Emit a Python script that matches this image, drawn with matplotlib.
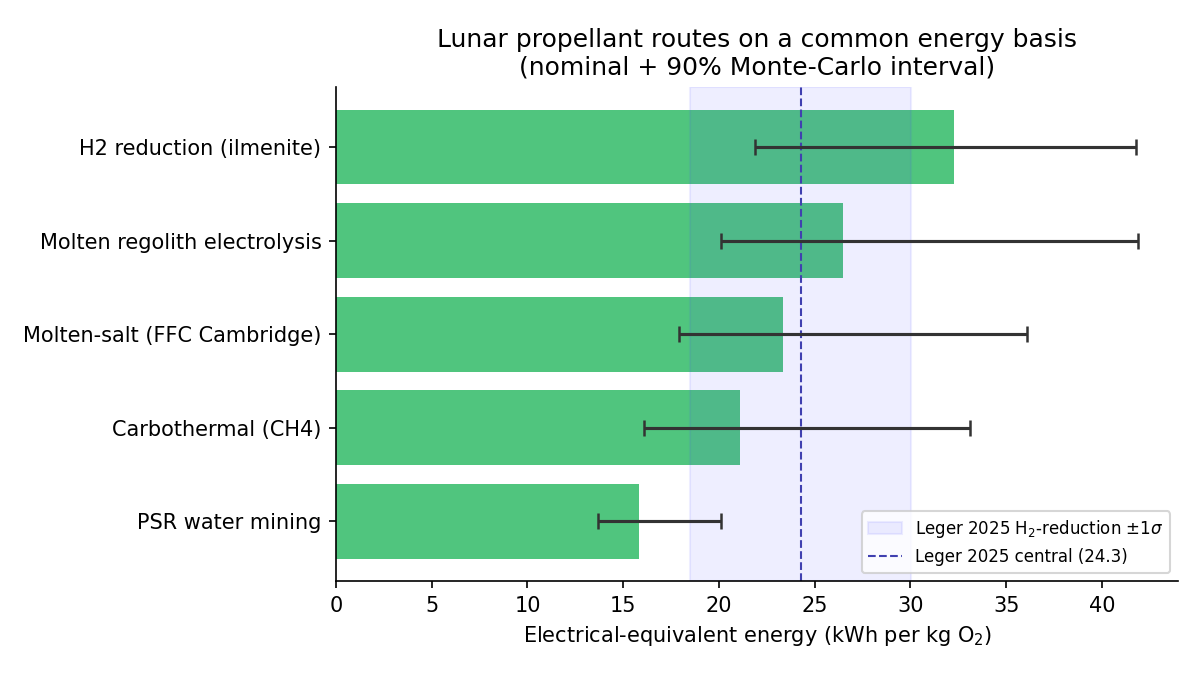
import matplotlib.pyplot as plt
import numpy as np

routes = ["PSR water mining", "Carbothermal (CH4)", "Molten-salt (FFC Cambridge)",
          "Molten regolith electrolysis", "H2 reduction (ilmenite)"]
nominal = [15.8, 21.1, 23.35, 26.5, 32.3]
p05 = [13.7, 16.1, 17.9, 20.1, 21.9]
p95 = [20.1, 33.1, 36.1, 41.9, 41.8]

leger_central = 24.3
leger_lo = 18.5
leger_hi = 30.05

fig, ax = plt.subplots(figsize=(8, 4.5), dpi=150)
y = np.arange(len(routes))
ax.barh(y, nominal, height=0.8, color="#50c57e", zorder=1)

nom = np.array(nominal)
err = [nom - np.array(p05), np.array(p95) - nom]
ax.errorbar(nominal, y, xerr=err, fmt="none", ecolor="#333333",
            elinewidth=1.5, capsize=4, capthick=1.2, zorder=3)

ax.axvspan(leger_lo, leger_hi, color="#4848ff", alpha=0.09, zorder=2,
           label=r"Leger 2025 H$_2$-reduction $\pm1\sigma$")
ax.axvline(leger_central, color="#4040b0", linestyle="--", linewidth=1, zorder=2,
           label=f"Leger 2025 central ({leger_central})")

ax.set_yticks(y)
ax.set_yticklabels(routes, fontsize=10)
ax.tick_params(axis="x", labelsize=10)
ax.set_xlabel(r"Electrical-equivalent energy (kWh per kg O$_2$)", fontsize=10)
ax.set_title("Lunar propellant routes on a common energy basis\n(nominal + 90% Monte-Carlo interval)",
             fontsize=12)
ax.spines["top"].set_visible(False)
ax.spines["right"].set_visible(False)
ax.legend(loc="lower right", fontsize=8)

plt.subplots_adjust(left=0.28, right=0.982, top=0.871, bottom=0.139)
plt.savefig("out.png")
